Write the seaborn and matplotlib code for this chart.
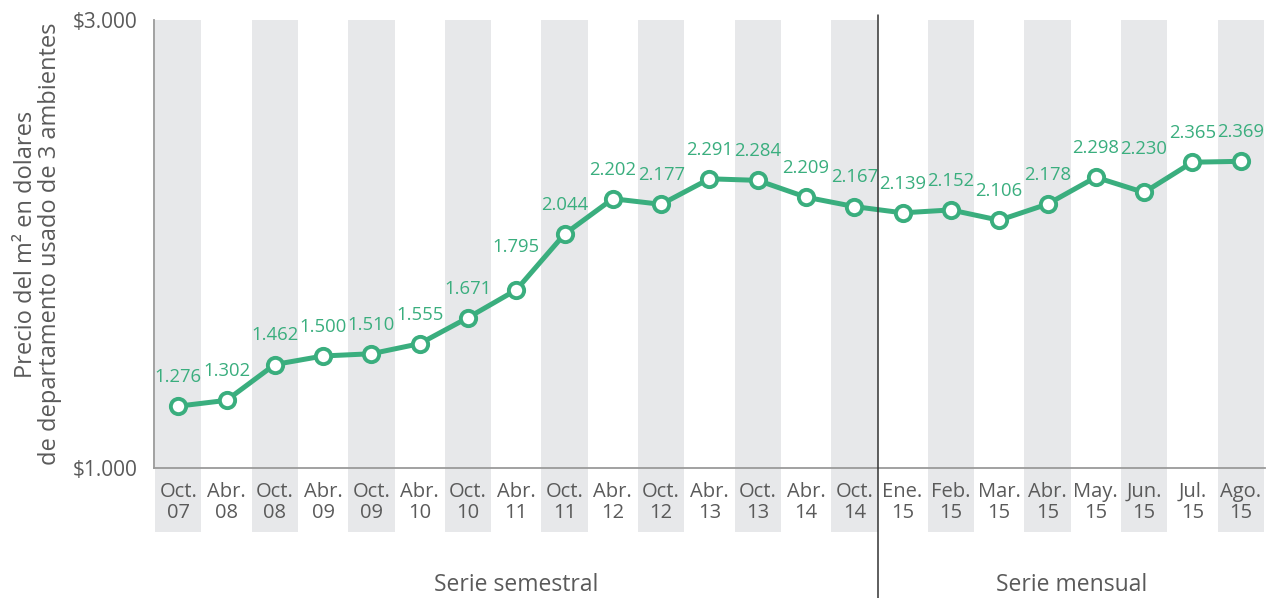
import numpy as np
import seaborn as sns
import matplotlib.pyplot as plt

periodos = ["Oct.\n07", "Abr.\n08", "Oct.\n08", "Abr.\n09", "Oct.\n09", "Abr.\n10",
            "Oct.\n10", "Abr.\n11", "Oct.\n11", "Abr.\n12", "Oct.\n12", "Abr.\n13",
            "Oct.\n13", "Abr.\n14", "Oct.\n14", "Ene.\n15", "Feb.\n15", "Mar.\n15",
            "Abr.\n15", "May.\n15", "Jun.\n15", "Jul.\n15", "Ago.\n15"]
precios = [1276, 1302, 1462, 1500, 1510, 1555, 1671, 1795, 2044, 2202, 2177, 2291,
           2284, 2209, 2167, 2139, 2152, 2106, 2178, 2298, 2230, 2365, 2369]
n_semestral = 15

sns.set_theme(style="white")
plt.rcParams['font.family'] = ['Open Sans', 'DejaVu Sans']

verde = "#3aae7e"
gris_txt = "#5a5a5a"
gris_banda = "#e7e8ea"

fig = plt.figure(figsize=(12.68, 5.98), dpi=100)
ax = fig.add_axes([0.1215, 0.2174, 0.876, 0.7492])

x = np.arange(len(precios))

# franjas grises alternadas, bajando hasta las etiquetas
for i in x[::2]:
    ax.axvspan(i - 0.48, i + 0.48, ymin=-0.143, ymax=1, color=gris_banda,
               lw=0, zorder=0, clip_on=False)

sns.lineplot(x=x, y=precios, ax=ax, color=verde, lw=3.6, zorder=3,
             marker="o", markersize=11, markerfacecolor="white",
             markeredgecolor=verde, markeredgewidth=2.8)

for i, v in zip(x, precios):
    extra = 10 if i in (7, 20) else 0
    ax.annotate(f"{v/1000:.3f}", (i, v), xytext=(0, 21 + extra),
                textcoords="offset points", ha="center", va="center",
                color=verde, fontsize=13.3, zorder=4)

ax.set_xlim(-0.5, len(precios) - 0.5)
ax.set_ylim(1000, 3000)
ax.set_xticks(x)
ax.set_xticklabels(periodos, fontsize=14.5, color=gris_txt, linespacing=1.1)
ax.set_yticks([1000, 3000])
ax.set_yticklabels(["$1.000", "$3.000"], fontsize=15, color=gris_txt)
ax.tick_params(axis="both", length=0, pad=10)
ax.tick_params(axis="y", pad=12)

for s in ["top", "right"]:
    ax.spines[s].set_visible(False)
for s in ["left", "bottom"]:
    ax.spines[s].set_color("#9a9a9a")
    ax.spines[s].set_linewidth(1.3)

ax.set_ylabel("Precio del m² en dolares\nde departamento usado de 3 ambientes",
              fontsize=17, color=gris_txt, labelpad=4, linespacing=1.0)
ax.yaxis.set_label_coords(-0.083, 0.5)

# division entre serie semestral y mensual
div = n_semestral - 0.5
ax.plot([div, div], [-0.3, 1.01], transform=ax.get_xaxis_transform(),
        color="#333333", lw=1.1, clip_on=False, zorder=5)

ax.text((n_semestral - 1) / 2, -0.262, "Serie semestral", transform=ax.get_xaxis_transform(),
        ha="center", va="center", fontsize=16.5, color=gris_txt)
ax.text((n_semestral + len(precios) - 1) / 2, -0.262, "Serie mensual",
        transform=ax.get_xaxis_transform(), ha="center", va="center",
        fontsize=16.5, color=gris_txt)

fig.savefig("out.png", dpi=100)
